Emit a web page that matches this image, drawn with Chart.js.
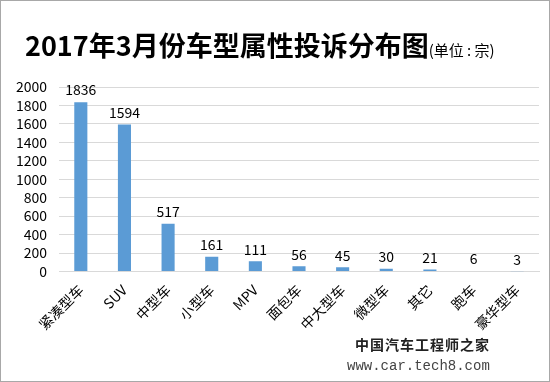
<!DOCTYPE html>
<html>
<head>
<meta charset="utf-8">
<script src="https://cdn.jsdelivr.net/npm/chart.js@4/dist/chart.umd.min.js"></script>
<style>
  body { margin: 0; background: #fff; }
  #wrap { position: relative; width: 548px; height: 380px; border: 1px solid #a8a8a8; overflow: hidden; }
  #title { position: absolute; left: 24px; top: 26px; font-family: "Noto Sans CJK SC", sans-serif; font-weight: bold; font-size: 27px; line-height: 36px; color: #000; white-space: nowrap; }
  #title span { font-size: 15px; font-weight: normal; }
  #mark1 { position: absolute; left: 354px; top: 333px; font-family: "Noto Sans CJK SC", sans-serif; font-weight: bold; font-size: 14px; color: #222; letter-spacing: 1px; }
  #mark2 { position: absolute; left: 346px; top: 357px; font-family: "Liberation Mono", monospace; font-size: 14px; color: #444; }
  canvas { position: absolute; left: 0; top: 0; }
</style>
</head>
<body>
<div id="wrap">
  <canvas id="myChart" width="548" height="380"></canvas>
  <div id="title">2017年3月份车型属性投诉分布图<span>(单位 : 宗)</span></div>
  <div id="mark1">中国汽车工程师之家</div>
  <div id="mark2">www.car.tech8.com</div>
</div>
<script>
const categories = ["紧凑型车", "SUV", "中型车", "小型车", "MPV", "面包车", "中大型车", "微型车", "其它", "跑车", "豪华型车"];
const complaints = [1836, 1594, 517, 161, 111, 56, 45, 30, 21, 6, 3];

// value labels above each bar
const valueLabels = {
  id: "valueLabels",
  afterDatasetsDraw(chart) {
    const ctx = chart.ctx;
    const meta = chart.getDatasetMeta(0);
    ctx.save();
    ctx.font = "14px 'Noto Sans CJK SC', sans-serif";
    ctx.fillStyle = "#000";
    ctx.textAlign = "center";
    ctx.textBaseline = "bottom";
    meta.data.forEach((bar, i) => {
      ctx.fillText(complaints[i], bar.x, bar.y - 5);
    });
    ctx.restore();
  },
};

const ctx = document.getElementById("myChart").getContext("2d");
new Chart(ctx, {
  type: "bar",
  data: {
    labels: categories,
    datasets: [
      {
        data: complaints,
        backgroundColor: "#5b9bd5",
        categoryPercentage: 1,
        barPercentage: 0.3,
      },
    ],
  },
  options: {
    responsive: false,
    animation: false,
    layout: { padding: { top: 86, right: 10, left: 8, bottom: 46 } },
    plugins: { legend: { display: false }, tooltip: { enabled: false } },
    scales: {
      x: {
        grid: { display: false },
        border: { color: "#d9d9d9" },
        ticks: {
          color: "#000",
          font: { size: 14, family: "'Noto Sans CJK SC', sans-serif" },
          minRotation: 45,
          maxRotation: 45,
          padding: 2,
        },
      },
      y: {
        min: 0,
        max: 2000,
        afterFit(scale) { scale.width = 50; },
        ticks: {
          stepSize: 200,
          autoSkip: false,
          color: "#000",
          padding: 12,
          font: { size: 14, family: "'Noto Sans CJK SC', sans-serif" },
          callback: (v) => String(v),
        },
        grid: { color: "#d9d9d9", drawTicks: false },
        border: { display: false },
      },
    },
  },
  plugins: [valueLabels],
});
</script>
</body>
</html>
